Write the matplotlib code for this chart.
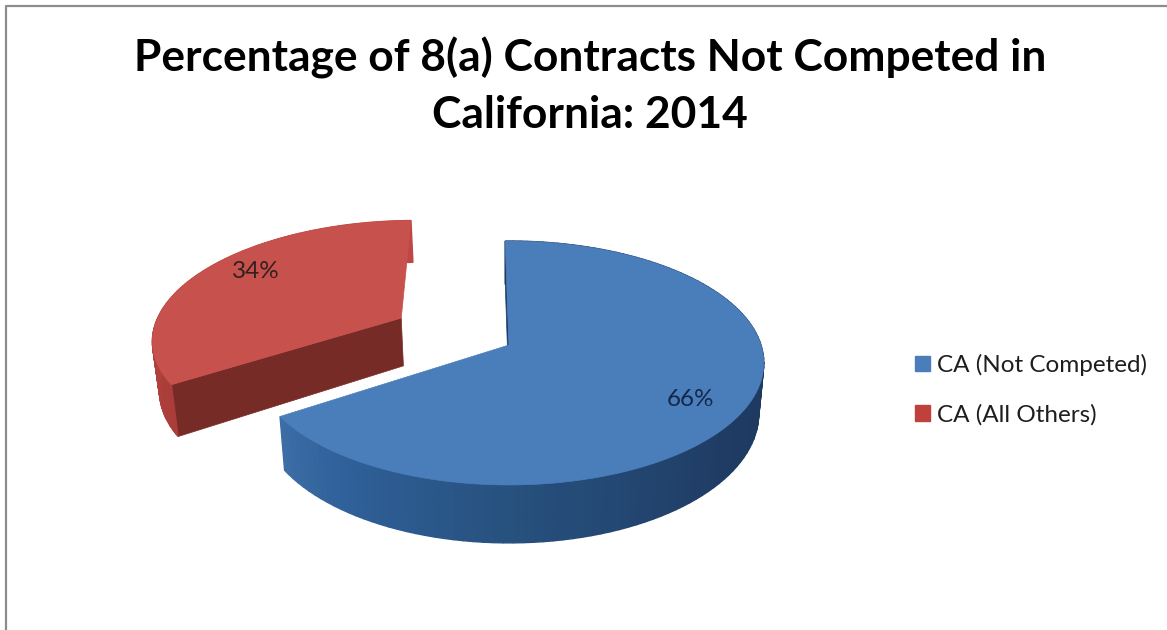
import numpy as np
import matplotlib
matplotlib.use("Agg")
import matplotlib.pyplot as plt
from matplotlib.patches import Polygon, Patch
from matplotlib.colors import to_rgb
from matplotlib.lines import Line2D

# Chart content
title_text = "Percentage of 8(a) Contracts Not Competed in\nCalifornia: 2014"
categories = ["CA (Not Competed)", "CA (All Others)"]
shares = [66, 34]
percent_labels = ["66%", "34%"]

# Pie geometry and styling (pixel space of the figure)
CX, CY = 509, 345
RX, RY = 252, 119.3
PERSP = 0.1475
DEPTH = 49.4
SHRINK = 0.02
START_DEG = -1
EXPLODE = [0.0, 0.5]
TOP_COLORS = ["#4A7EBB", "#C7514C"]
CUT_COLORS = ["#1E3F6B", "#762B26"]
RIM_STOPS = [
    [(90, "#1D385E"), (130, "#1F3C64"), (180, "#27517F"), (215, "#30619A"), (240, "#3F70A8")],
    [(230, "#A83C38"), (300, "#BC4743"), (360, "#BC4743")],
]
LEGEND_COLORS = ["#4A7EBB", "#C0403C"]


def project(u, v, lift=0.0):
    """Map unit-disc coordinates (u right, v back) to screen pixels."""
    w = 1 + PERSP * v
    x = u / w
    y = v / w
    d = DEPTH * lift / w
    return (CX + RX * x * (1 - SHRINK * lift),
            CY - RY * y + d)


def rim_color(stops, deg):
    angles = [s[0] for s in stops]
    rgb = np.array([to_rgb(s[1]) for s in stops])
    return tuple(np.interp(deg, angles, rgb[:, i]) for i in range(3))


def draw_slice(ax, a0, a1, explode, top, cut, stops, z):
    mid = np.radians((a0 + a1) / 2)
    ou, ov = explode * np.sin(mid), explode * np.cos(mid)
    deg = np.linspace(a0, a1, 121)
    us = ou + np.sin(np.radians(deg))
    vs = ov + np.cos(np.radians(deg))

    # flat cut face at the leading edge of the slice; the trailing one faces away
    corners = [project(ou, ov), project(us[0], vs[0]),
               project(us[0], vs[0], 1), project(ou, ov, 1)]
    ax.add_patch(Polygon(corners, closed=True, fc=cut, ec=cut, lw=0.5, zorder=z))

    # outer wall, shaded strip by strip
    for i in range(len(deg) - 1):
        quad = [project(us[i], vs[i]), project(us[i + 1], vs[i + 1]),
                project(us[i + 1], vs[i + 1], 1), project(us[i], vs[i], 1)]
        c = rim_color(stops, deg[i])
        ax.add_patch(Polygon(quad, closed=True, fc=c, ec=c, lw=1.0, zorder=z + 1))

    # top surface
    outline = [project(ou, ov)] + [project(a, b) for a, b in zip(us, vs)]
    ax.add_patch(Polygon(outline, closed=True, fc=top, ec=top, lw=0.5, zorder=z + 2))


fig = plt.figure(figsize=(11.67, 6.30), dpi=100, facecolor="white")
ax = fig.add_axes([0, 0, 1, 1])
ax.set_xlim(0, 1167)
ax.set_ylim(630, 0)
ax.axis("off")

# Chart frame: only the left and top edges fall inside the canvas
ax.add_line(Line2D([5.5, 5.5, 1167], [630, 5.5, 5.5], color="#8C8C8C", lw=1.6))

# Slices go clockwise from the top; the exploded one sits behind
spans = np.cumsum([0] + shares) / sum(shares) * 360 + START_DEG
for idx in (1, 0):
    draw_slice(ax, spans[idx], spans[idx + 1], EXPLODE[idx], TOP_COLORS[idx],
               CUT_COLORS[idx], RIM_STOPS[idx], z=2 + (1 - idx) * 5)

ax.text(691, 400, percent_labels[0], ha="center", va="center", family="Lato",
        fontsize=17.5, color="#12284A", zorder=20)
ax.text(256, 271, percent_labels[1], ha="center", va="center", family="Lato",
        fontsize=17.5, color="#33201F", zorder=20)

ax.text(590, 86, title_text, ha="center", va="center", family="Lato", weight="bold",
        fontsize=31.9, color="black", linespacing=1.5, zorder=20)

handles = [Patch(fc=c, ec=c) for c in LEGEND_COLORS]
ax.legend(handles, categories, loc="upper left", bbox_to_anchor=(915, 354),
          bbox_transform=ax.transData, frameon=False, handlelength=0.62, handleheight=0.62,
          handletextpad=0.29, labelspacing=1.14, borderpad=0, borderaxespad=0,
          prop={"family": "Lato", "size": 17.5}, labelcolor="#1E1E1E")

fig.savefig("out.png", dpi=100)
